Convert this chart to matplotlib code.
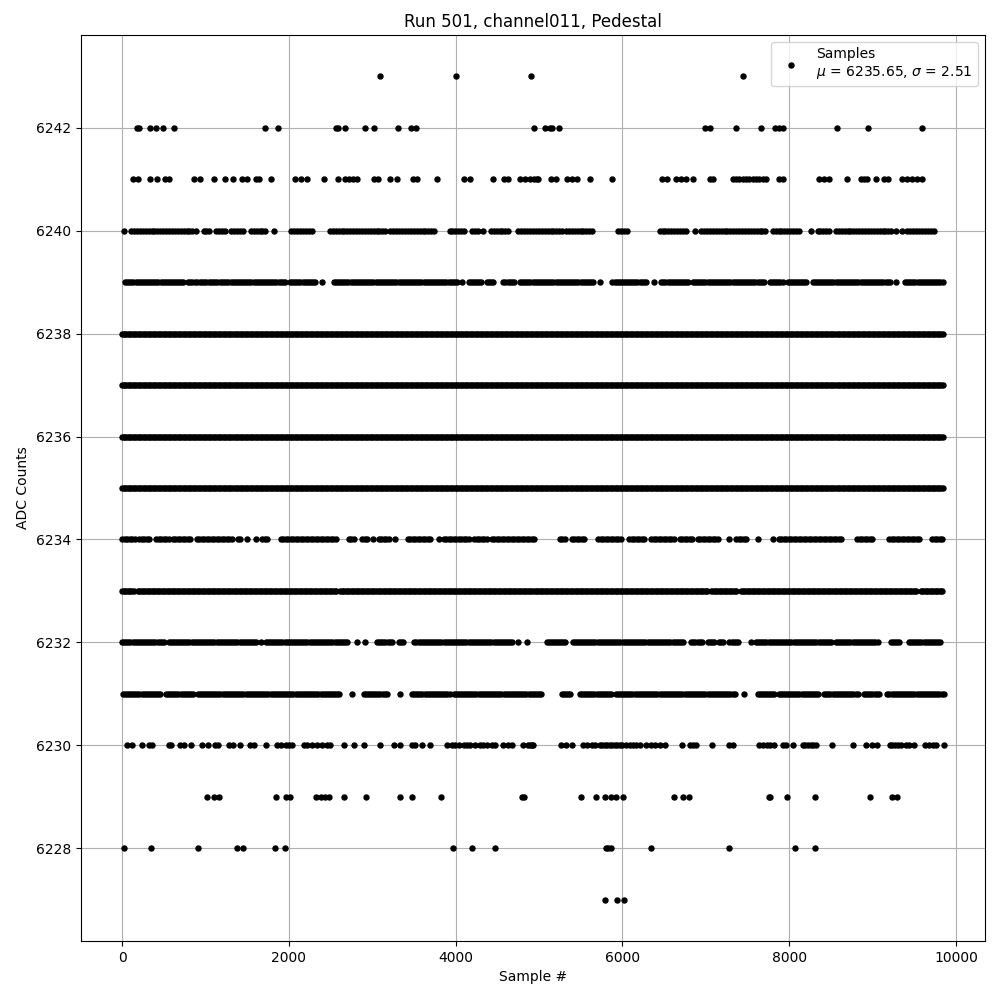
import numpy as np
import matplotlib
matplotlib.use("Agg")
import matplotlib.pyplot as plt

# ---- data (sample index positions per ADC level) ----
# sparse levels: individual sample positions
pts_6243 = [3090, 4010, 4910, 7445]
pts_6242 = [180, 200, 339, 411, 494, 626, 1714, 1870, 2560, 2585, 2671, 2910, 3018,
            3305, 3465, 3529, 4944, 5075, 5132, 5160, 5243, 6986, 7046, 7360, 7659,
            7835, 7883, 7931, 8568, 8943, 9597]
pts_6241 = [132, 191, 339, 422, 518, 558, 865, 933, 1104, 1236, 1332, 1439, 1503, 1603,
            1643, 1786, 2073, 2141, 2217, 2420, 2588, 2671, 2719, 2767, 2819, 3018, 3066,
            3210, 3301, 3485, 3537, 3776, 4103, 4167, 4454, 4585, 4633, 4773, 4833, 4892,
            4940, 4972, 4992, 5140, 5203, 5331, 5391, 5451, 5614, 5877, 6479, 6535, 6647,
            6707, 6767, 6846, 7046, 7085, 7324, 7364, 7404, 7444, 7484, 7524, 7564, 7604,
            7644, 7684, 7723, 7883, 7922, 8361, 8421, 8481, 8688, 8860, 8900, 8939, 9047,
            9139, 9190, 9350, 9417, 9477, 9537, 9597]
pts_6230 = [60, 116, 239, 319, 355, 558, 586, 694, 746, 825, 957, 1025, 1112, 1152, 1284,
            1324, 1416, 1535, 1583, 1723, 1862, 1902, 1962, 2002, 2041, 2181, 2221, 2281,
            2340, 2400, 2460, 2492, 2659, 2779, 2899, 3090, 3257, 3337, 3477, 3517, 3596,
            3696, 3895, 3955, 3995, 4035, 4095, 4135, 4174, 4234, 4294, 4334, 4374, 4434,
            4473, 4573, 4633, 4673, 4812, 4872, 4892, 4920, 4924, 5259, 5323, 5399, 5530,
            5578, 5630, 5670, 5730, 5761, 5789, 5817, 5849, 5881, 5909, 5937, 5969, 6001,
            6049, 6088, 6128, 6168, 6208, 6280, 6348, 6387, 6447, 6507, 6718, 6806, 6846,
            6886, 7077, 7277, 7324, 7635, 7683, 7731, 7771, 7823, 7922, 7962, 8042, 8162,
            8193, 8225, 8261, 8289, 8321, 8509, 8760, 8927, 8991, 9059, 9206, 9238, 9270,
            9302, 9338, 9398, 9438, 9497, 9629, 9677, 9725, 9765, 9856]
pts_6229 = [1017, 1104, 1164, 1842, 1962, 2010, 2321, 2380, 2428, 2480, 2660, 2931, 3337,
            3473, 3828, 4793, 4821, 5502, 5682, 5789, 5861, 5929, 6009, 6619, 6727, 6798,
            7755, 7770, 7970, 8305, 8971, 9230, 9298]
pts_6228 = [28, 351, 913, 1376, 1455, 1830, 1953, 3963, 4202, 4477, 5801, 5833, 5865,
            6344, 7277, 8074, 8313]
pts_6227 = [5793, 5937, 6021]

# dense levels: filled sample ranges (start, end)
spans_6240 = [(20, 20), (108, 845), (885, 885), (977, 1057), (1125, 1264), (1304, 1455),
              (1543, 1743), (1822, 1822), (2030, 2301), (2492, 3178), (3218, 3776),
              (3927, 4115), (4195, 4274), (4334, 4334), (4422, 4653), (4753, 5291),
              (5323, 5642), (5949, 6056), (6447, 6786), (6866, 6866), (6945, 7743),
              (7803, 8130), (8261, 8261), (8341, 8500), (8560, 9238), (9278, 9278),
              (9350, 9350), (9417, 9765)]
spans_6239 = [(36, 746), (794, 905), (937, 1144), (1176, 1962), (2014, 2321), (2400, 2400),
              (2540, 4035), (4075, 4075), (4155, 4314), (4374, 4473), (4573, 4713),
              (4773, 5650), (5729, 5729), (5881, 6288), (6375, 6375), (6467, 6798),
              (6846, 7703), (7771, 7922), (7982, 8221), (8281, 9218), (9286, 9286),
              (9390, 9856)]
spans_6238 = [(0, 9856)]
spans_6237 = [(0, 9856)]
spans_6236 = [(0, 9856)]
spans_6235 = [(0, 9856)]
spans_6234 = [(0, 168), (207, 347), (407, 566), (606, 826), (897, 1324), (1384, 1424),
              (1503, 1503), (1603, 1603), (1683, 1743), (1902, 2580), (2719, 2799),
              (2879, 2939), (3010, 3010), (3078, 3198), (3277, 3277), (3425, 3716),
              (3796, 3796), (3855, 4174), (4222, 4394), (4434, 4972), (5251, 5311),
              (5390, 5550), (5709, 5988), (6080, 6288), (6347, 6646), (6686, 6846),
              (6906, 7165), (7276, 7276), (7364, 7503), (7623, 7623), (7803, 7803),
              (7874, 8640), (8819, 9019), (9198, 9565), (9716, 9836)]
spans_6233 = [(0, 148), (188, 2580), (2612, 3058), (3078, 7025), (7065, 7384),
              (7424, 9537), (9577, 9856)]
spans_6232 = [(0, 506), (558, 1623), (1663, 1663), (1723, 2719), (2819, 2819),
              (2919, 2919), (3058, 3257), (3317, 3377), (3505, 4693), (4753, 4753),
              (4861, 4861), (5091, 5331), (5402, 6746), (6826, 6965), (7025, 7105),
              (7157, 7224), (7284, 7404), (7543, 7543), (7603, 8520), (8560, 9079),
              (9218, 9338), (9437, 9836)]
spans_6231 = [(8, 467), (526, 865), (905, 2620), (2759, 2759), (2899, 3178), (3337, 3337),
              (3477, 3935), (3975, 5044), (5271, 5390), (5490, 5889), (5921, 7364),
              (7464, 7464), (7623, 7823), (7874, 8361), (8421, 8839), (8899, 9079),
              (9178, 9856)]

mean_val = 6235.65
sigma_val = 2.51
title = "Run 501, channel011, Pedestal"

# ---- build sample arrays ----
sparse = {6243: pts_6243, 6242: pts_6242, 6241: pts_6241, 6230: pts_6230,
          6229: pts_6229, 6228: pts_6228, 6227: pts_6227}
dense = {6240: (spans_6240, 35), 6239: (spans_6239, 25), 6238: (spans_6238, 20),
         6237: (spans_6237, 20), 6236: (spans_6236, 20), 6235: (spans_6235, 20),
         6234: (spans_6234, 30), 6233: (spans_6233, 20), 6232: (spans_6232, 25),
         6231: (spans_6231, 25)}

xs, ys = [], []
for lvl, p in sparse.items():
    xs.extend(p)
    ys.extend([lvl] * len(p))
for lvl, (spans, step) in dense.items():
    for a, b in spans:
        seg = np.arange(a, b + 1, step) if b > a else np.array([a])
        xs.extend(seg.tolist())
        ys.extend([lvl] * len(seg))

fig = plt.figure(figsize=(10, 10), dpi=100)
ax = fig.add_axes([0.081, 0.059, 0.904, 0.906])
ax.plot(xs, ys, 'o', color='black', markersize=3.6, linestyle='none',
        label='Samples\n$\\mu$ = %.2f, $\\sigma$ = %.2f' % (mean_val, sigma_val))
ax.set_xlim(-493, 10349)
ax.set_ylim(6226.2, 6243.8)
ax.grid(True)
ax.set_axisbelow(True)
ax.set_title(title)
ax.set_xlabel("Sample #")
ax.set_ylabel("ADC Counts")
ax.legend(loc='upper right')
fig.savefig("out.png", dpi=100)
